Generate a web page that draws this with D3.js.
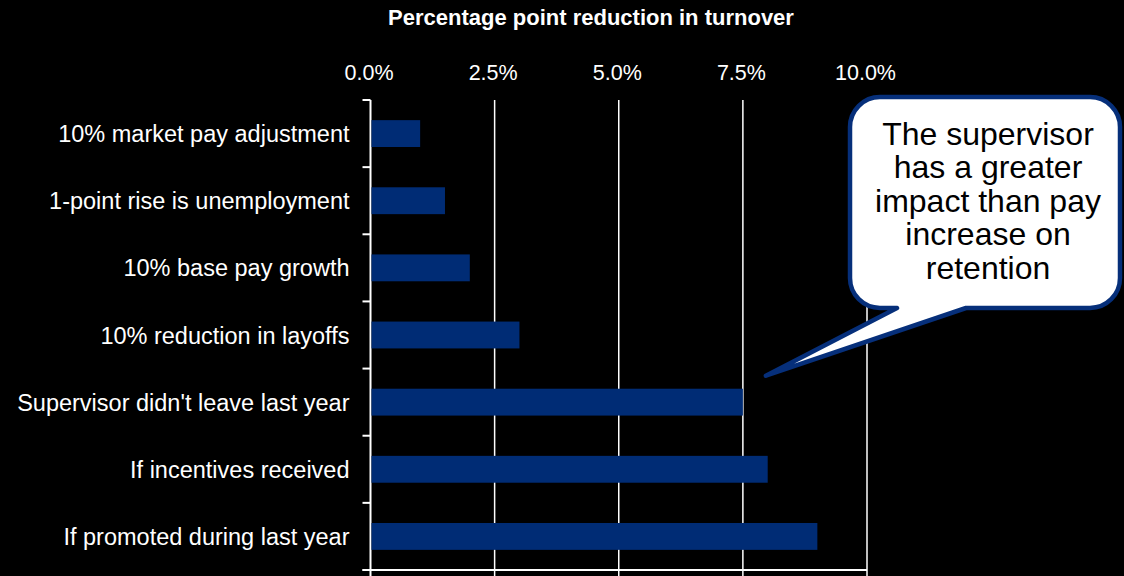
<!DOCTYPE html>
<html>
<head>
<meta charset="utf-8">
<script src="https://cdn.jsdelivr.net/npm/d3@7/dist/d3.min.js"></script>
<style>
  html, body { margin: 0; padding: 0; background: #000; }
  svg { display: block; }
  text { font-family: "Liberation Sans", Arial, sans-serif; }
</style>
</head>
<body>
<svg id="chart" width="1124" height="576"></svg>
<script>
// Drivers of turnover and the reduction (percentage points) each one brings
const categories = [
  "10% market pay adjustment",
  "1-point rise is unemployment",
  "10% base pay growth",
  "10% reduction in layoffs",
  "Supervisor didn't leave last year",
  "If incentives received",
  "If promoted during last year"
];
const reductions = [1.0, 1.5, 2.0, 3.0, 7.5, 8.0, 9.0];
const tickValues = [0, 2.5, 5, 7.5, 10];
const chartTitle = "Percentage point reduction in turnover";
const calloutLines = ["The supervisor", "has a greater", "impact than pay", "increase on", "retention"];

const svg = d3.select("#chart");
const W = 1124, H = 576;
svg.append("rect").attr("width", W).attr("height", H).attr("fill", "#000");

const plot = { left: 370.5, right: 867, top: 100, bottom: 570 };
const barColor = "#002c75";
const calloutStroke = "#062f7a";

const x = d3.scaleLinear().domain([0, 10]).range([plot.left, plot.right]);
const y = d3.scaleBand().domain(categories).range([plot.top, plot.bottom])
  .paddingInner(0.6).paddingOuter(0.3);

// Title
svg.append("text")
  .attr("x", 591).attr("y", 25)
  .attr("text-anchor", "middle")
  .attr("fill", "#fff")
  .attr("font-weight", "bold")
  .attr("font-size", 22)
  .text(chartTitle);

// Vertical gridlines at each tick
svg.append("g").selectAll("line")
  .data(tickValues)
  .join("line")
  .attr("x1", d => x(d)).attr("x2", d => x(d))
  .attr("y1", plot.top).attr("y2", H)
  .attr("stroke", "#fff")
  .attr("stroke-width", d => d === 0 ? 2 : 1.5);

// Top axis labels
const xAxis = d3.axisTop(x)
  .tickValues(tickValues)
  .tickSize(0)
  .tickFormat(d => d3.format(".1f")(d) + "%");
const gx = svg.append("g").attr("transform", `translate(0,${plot.top})`).call(xAxis);
gx.select(".domain").remove();
gx.selectAll("text")
  .attr("x", -2)
  .attr("y", -20)
  .attr("dy", 0)
  .attr("fill", "#fff")
  .attr("font-size", 21.5)
  .attr("font-family", "Liberation Sans, Arial, sans-serif");

// Bottom baseline
svg.append("line")
  .attr("x1", plot.left - 8).attr("x2", plot.right)
  .attr("y1", plot.bottom).attr("y2", plot.bottom)
  .attr("stroke", "#fff").attr("stroke-width", 2);

// Category boundary ticks on the value-zero axis
const step = y.step();
svg.append("g").selectAll("line")
  .data(d3.range(categories.length + 1))
  .join("line")
  .attr("x1", plot.left - 8).attr("x2", plot.left)
  .attr("y1", i => plot.top + i * step).attr("y2", i => plot.top + i * step)
  .attr("stroke", "#fff").attr("stroke-width", 2);

// Bars
svg.append("g").selectAll("rect")
  .data(categories)
  .join("rect")
  .attr("x", x(0) + 1)
  .attr("y", d => y(d))
  .attr("width", (d, i) => x(reductions[i]) - x(0) - 1)
  .attr("height", y.bandwidth())
  .attr("fill", barColor);

// Category labels
svg.append("g").selectAll("text")
  .data(categories)
  .join("text")
  .attr("x", plot.left - 21)
  .attr("y", d => y(d) + y.bandwidth() / 2 + 8.5)
  .attr("text-anchor", "end")
  .attr("fill", "#fff")
  .attr("font-size", 23.5)
  .text(d => d);

// Speech-bubble callout pointing at the supervisor bar
const supIdx = categories.indexOf("Supervisor didn't leave last year");
const tipX = x(reductions[supIdx]) + 23;
const tipY = y(categories[supIdx]) - 13;
const bx0 = 850, bx1 = 1120, by0 = 97, by1 = 308, r = 30;
const bubble = d3.path();
bubble.moveTo(bx0 + r, by0);
bubble.lineTo(bx1 - r, by0);
bubble.arcTo(bx1, by0, bx1, by0 + r, r);
bubble.lineTo(bx1, by1 - r);
bubble.arcTo(bx1, by1, bx1 - r, by1, r);
bubble.lineTo(966, by1);
bubble.lineTo(tipX, tipY);
bubble.lineTo(897, by1);
bubble.lineTo(bx0 + r, by1);
bubble.arcTo(bx0, by1, bx0, by1 - r, r);
bubble.lineTo(bx0, by0 + r);
bubble.arcTo(bx0, by0, bx0 + r, by0, r);
bubble.closePath();

svg.append("path")
  .attr("d", bubble.toString())
  .attr("fill", "#fff")
  .attr("stroke", calloutStroke)
  .attr("stroke-width", 4.5)
  .attr("stroke-linejoin", "round");

svg.append("g").selectAll("text")
  .data(calloutLines)
  .join("text")
  .attr("x", 988)
  .attr("y", (d, i) => 145 + i * 33.4)
  .attr("text-anchor", "middle")
  .attr("fill", "#000")
  .attr("font-size", 32)
  .text(d => d);
</script>
</body>
</html>
